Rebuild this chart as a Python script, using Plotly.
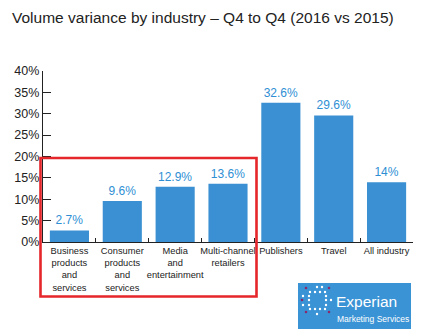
import plotly.graph_objects as go

categories = [
    "Business<br>products<br>and<br>services",
    "Consumer<br>products<br>and<br>services",
    "Media<br>and<br>entertainment",
    "Multi-channel<br>retailers",
    "Publishers",
    "Travel",
    "All industry",
]
values = [2.7, 9.6, 12.9, 13.6, 32.6, 29.6, 14]
labels = [f"{v:g}%" for v in values]

W, H = 425, 334
L, R, T, B = 43, 12, 71, 92
PW, PH = W - L - R, H - T - B

def px(x):
    return (x - L) / PW

def py(y):
    return (H - B - y) / PH

BAR = "#3a90d2"
TXT = "#2f8fd4"

fig = go.Figure(go.Bar(
    x=categories, y=values, text=labels, textposition="outside",
    textfont=dict(color=TXT, size=12), marker=dict(color=BAR, line=dict(width=0)),
    cliponaxis=False,
))

shapes = [
    dict(type="rect", xref="paper", yref="paper", x0=px(40.5), x1=px(256.5), y0=py(296.5), y1=py(158),
         line=dict(color="#e5262a", width=2.6), fillcolor="rgba(0,0,0,0)", layer="above"),
    dict(type="rect", xref="paper", yref="paper", x0=px(298), x1=px(411), y0=py(329), y1=py(283),
         line=dict(width=0), fillcolor="#3a93d5", layer="above"),
]
# Experian dot logo
white = []
purple = [(306, 288), (329, 288), (306, 312), (329, 312), (302, 300)]
for x in [310, 315, 320, 325]:
    white.append((x, 292)); white.append((x, 309))
for y in [296, 300, 305]:
    white.append((309, y)); white.append((326, y))
white += [(317, 287), (322, 287), (303, 296), (303, 305), (331, 300), (317, 314)]
for (x, y) in white:
    shapes.append(dict(type="circle", xref="paper", yref="paper", x0=px(x - 1.2), x1=px(x + 1.2),
                       y0=py(y + 1.2), y1=py(y - 1.2), line=dict(width=0), fillcolor="white", layer="above"))
for (x, y) in purple:
    shapes.append(dict(type="circle", xref="paper", yref="paper", x0=px(x - 1.3), x1=px(x + 1.3),
                       y0=py(y + 1.3), y1=py(y - 1.3), line=dict(width=0), fillcolor="#8a2a6a", layer="above"))

annotations = [
    dict(text="Experian", xref="paper", yref="paper", x=px(334), y=py(301), xanchor="left", yanchor="middle",
         showarrow=False, font=dict(color="white", size=15.5, family="Liberation Sans")),
    dict(text="Marketing Services", xref="paper", yref="paper", x=px(335), y=py(319), xanchor="left",
         yanchor="middle", showarrow=False, font=dict(color="white", size=8.5, family="Liberation Sans")),
]

fig.update_layout(
    width=W, height=H, margin=dict(l=L, r=R, t=T, b=B),
    paper_bgcolor="white", plot_bgcolor="white",
    font=dict(family="Liberation Sans", color="#222"),
    bargap=0.26, showlegend=False,
    title=dict(text="Volume variance by industry \u2013 Q4 to Q4 (2016 vs 2015)", xref="container", yref="container",
               x=12 / W, xanchor="left", y=1 - 18 / H, yanchor="middle",
               font=dict(size=15.5, color="#222", family="Liberation Sans")),
    shapes=shapes, annotations=annotations,
)
fig.update_xaxes(showline=True, linecolor="#222", linewidth=1.2, ticks="inside", tickson="boundaries",
                 ticklen=4, tickcolor="#222", tickfont=dict(size=9.3, color="#222"), showgrid=False,
                 tickangle=0)
fig.update_yaxes(range=[0, 40], dtick=5, ticksuffix="%", showline=True, linecolor="#222", linewidth=1.2,
                 ticks="inside", ticklen=8, tickcolor="#222", tickfont=dict(size=12.5, color="#222"),
                 showgrid=False, zeroline=False)

fig.write_html("out.html")
